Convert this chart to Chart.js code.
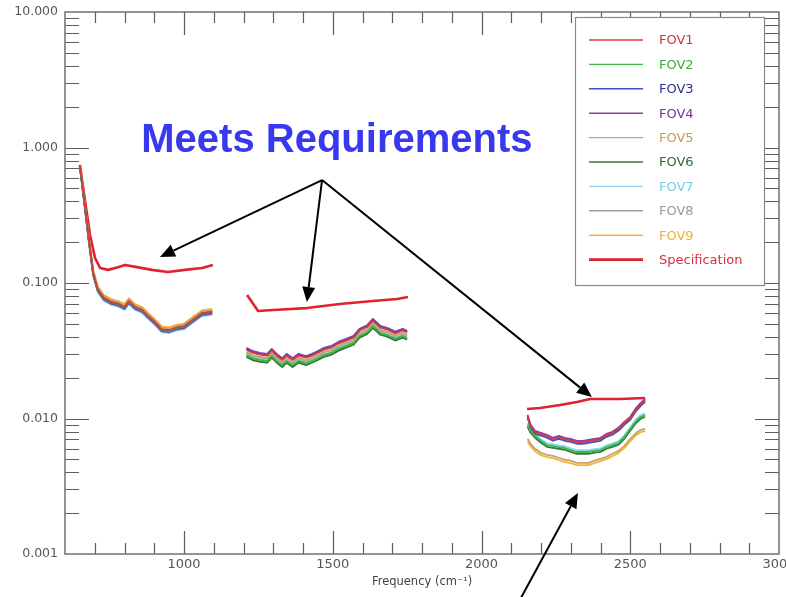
<!DOCTYPE html>
<html>
<head>
<meta charset="utf-8">
<script src="https://cdn.jsdelivr.net/npm/chart.js@4.4.1/dist/chart.umd.min.js"></script>
<style>
  html, body { margin: 0; padding: 0; background: #ffffff; }
  canvas { display: block; }
</style>
</head>
<body>
<canvas id="noise" width="786" height="597"></canvas>
<script>
// Noise spectra per field of view, three spectral bands (null separates the bands)
const freqFov = [
  650, 665, 680, 695, 710, 730, 755, 780, 800, 815, 835, 860, 880, 900, 925, 950, 975, 1000, 1030, 1060, 1095,
  1150,
  1210, 1230, 1255, 1280, 1295, 1315, 1330, 1345, 1365, 1385, 1410, 1430, 1450, 1470, 1495, 1520, 1545, 1570, 1590, 1615, 1635, 1660, 1685, 1710, 1735, 1750,
  1950,
  2155, 2165, 2180, 2200, 2220, 2240, 2260, 2280, 2300, 2320, 2340, 2360, 2380, 2400, 2420, 2440, 2460, 2480, 2500, 2520, 2535, 2550
];

const fov1 = [
  0.74, 0.40, 0.21, 0.118, 0.090, 0.078, 0.0725, 0.070, 0.0665, 0.0735, 0.0665, 0.063, 0.057, 0.052, 0.0455, 0.0448, 0.0468, 0.0478, 0.0535, 0.0598, 0.0612,
  null,
  0.0322, 0.0306, 0.0296, 0.0291, 0.0317, 0.0287, 0.0271, 0.0291, 0.0271, 0.0291, 0.0281, 0.0291, 0.0306, 0.0322, 0.0334, 0.0359, 0.0376, 0.0395, 0.0446, 0.0473, 0.0528, 0.0469, 0.0452, 0.0425, 0.0446, 0.0431,
  null,
  0.01043, 0.00881, 0.00795, 0.00769, 0.00743, 0.00706, 0.00730, 0.00706, 0.00694, 0.00671, 0.00671, 0.00682, 0.00694, 0.00706, 0.00755, 0.00782, 0.00837, 0.00926, 0.01009, 0.01175, 0.01279, 0.01369
];
const fov2 = [
  0.73, 0.40, 0.208, 0.117, 0.0892, 0.0773, 0.0718, 0.0694, 0.0660, 0.0726, 0.0660, 0.0622, 0.0566, 0.0516, 0.0451, 0.0442, 0.0465, 0.0475, 0.0528, 0.0594, 0.0608,
  null,
  0.0295, 0.0279, 0.0271, 0.0266, 0.0290, 0.0262, 0.0248, 0.0266, 0.0248, 0.0266, 0.0257, 0.0266, 0.0279, 0.0295, 0.0305, 0.0328, 0.0344, 0.0361, 0.0408, 0.0432, 0.0483, 0.0428, 0.0413, 0.0389, 0.0408, 0.0393,
  null,
  0.00896, 0.00809, 0.00743, 0.00682, 0.00637, 0.00627, 0.00616, 0.00606, 0.00585, 0.00566, 0.00566, 0.00566, 0.00576, 0.00585, 0.00616, 0.00637, 0.00659, 0.00730, 0.00837, 0.00959, 0.01026, 0.01062
];
const fov3 = [
  0.73, 0.39, 0.205, 0.114, 0.0875, 0.0757, 0.0703, 0.0680, 0.0645, 0.0712, 0.0646, 0.0611, 0.0553, 0.0505, 0.0442, 0.0435, 0.0454, 0.0464, 0.0519, 0.0580, 0.0594,
  null,
  0.0326, 0.0309, 0.0299, 0.0294, 0.0320, 0.0290, 0.0274, 0.0294, 0.0274, 0.0294, 0.0284, 0.0294, 0.0309, 0.0326, 0.0337, 0.0362, 0.0380, 0.0399, 0.0450, 0.0478, 0.0533, 0.0474, 0.0457, 0.0429, 0.0450, 0.0435,
  null,
  0.01012, 0.00855, 0.00771, 0.00746, 0.00721, 0.00685, 0.00708, 0.00685, 0.00673, 0.00651, 0.00651, 0.00662, 0.00673, 0.00685, 0.00732, 0.00759, 0.00812, 0.00898, 0.00979, 0.01140, 0.01241, 0.01328
];
const fov4 = [
  0.74, 0.39, 0.206, 0.116, 0.0882, 0.0765, 0.0711, 0.0686, 0.0652, 0.0720, 0.0652, 0.0617, 0.0559, 0.0510, 0.0446, 0.0439, 0.0459, 0.0468, 0.0524, 0.0586, 0.0600,
  null,
  0.0332, 0.0315, 0.0305, 0.0300, 0.0326, 0.0295, 0.0279, 0.0300, 0.0279, 0.0300, 0.0289, 0.0300, 0.0315, 0.0332, 0.0343, 0.0369, 0.0387, 0.0407, 0.0459, 0.0487, 0.0544, 0.0483, 0.0465, 0.0438, 0.0459, 0.0443,
  null,
  0.01064, 0.00899, 0.00811, 0.00784, 0.00758, 0.00720, 0.00745, 0.00720, 0.00708, 0.00684, 0.00684, 0.00696, 0.00708, 0.00720, 0.00770, 0.00798, 0.00854, 0.00945, 0.01029, 0.01199, 0.01305, 0.01396
];
const fov5 = [
  0.74, 0.41, 0.216, 0.122, 0.0927, 0.0803, 0.0747, 0.0721, 0.0685, 0.0757, 0.0685, 0.0649, 0.0587, 0.0536, 0.0469, 0.0461, 0.0482, 0.0492, 0.0551, 0.0616, 0.0630,
  null,
  0.0310, 0.0294, 0.0285, 0.0280, 0.0305, 0.0276, 0.0261, 0.0280, 0.0261, 0.0280, 0.0270, 0.0280, 0.0294, 0.0310, 0.0321, 0.0345, 0.0362, 0.0380, 0.0429, 0.0455, 0.0508, 0.0451, 0.0435, 0.0409, 0.0429, 0.0414,
  null,
  0.00708, 0.00650, 0.00597, 0.00558, 0.00540, 0.00530, 0.00512, 0.00496, 0.00488, 0.00471, 0.00471, 0.00471, 0.00488, 0.00504, 0.00521, 0.00549, 0.00577, 0.00628, 0.00708, 0.00784, 0.00825, 0.00838
];
const fov6 = [
  0.73, 0.40, 0.21, 0.117, 0.0895, 0.0778, 0.0722, 0.0698, 0.0662, 0.0730, 0.0668, 0.0628, 0.0570, 0.0518, 0.0453, 0.0446, 0.0470, 0.0482, 0.0540, 0.0604, 0.0618,
  null,
  0.0285, 0.0270, 0.0262, 0.0258, 0.0281, 0.0254, 0.0240, 0.0258, 0.0240, 0.0258, 0.0248, 0.0258, 0.0270, 0.0285, 0.0295, 0.0317, 0.0333, 0.0350, 0.0395, 0.0419, 0.0467, 0.0415, 0.0400, 0.0376, 0.0395, 0.0381,
  null,
  0.00869, 0.00785, 0.00721, 0.00662, 0.00618, 0.00608, 0.00598, 0.00588, 0.00567, 0.00549, 0.00549, 0.00549, 0.00559, 0.00567, 0.00598, 0.00618, 0.00639, 0.00708, 0.00812, 0.00930, 0.00995, 0.01030
];
const fov7 = [
  0.72, 0.38, 0.200, 0.112, 0.0855, 0.0741, 0.0689, 0.0665, 0.0632, 0.0698, 0.0632, 0.0599, 0.0542, 0.0494, 0.0432, 0.0426, 0.0445, 0.0454, 0.0508, 0.0568, 0.0581,
  null,
  0.0298, 0.0282, 0.0274, 0.0269, 0.0293, 0.0265, 0.0251, 0.0269, 0.0251, 0.0269, 0.0259, 0.0269, 0.0282, 0.0298, 0.0308, 0.0331, 0.0348, 0.0365, 0.0412, 0.0437, 0.0488, 0.0433, 0.0418, 0.0393, 0.0412, 0.0397,
  null,
  0.00923, 0.00833, 0.00765, 0.00702, 0.00656, 0.00646, 0.00634, 0.00624, 0.00603, 0.00583, 0.00583, 0.00583, 0.00593, 0.00603, 0.00634, 0.00656, 0.00679, 0.00752, 0.00862, 0.00988, 0.01057, 0.01094
];
const fov8 = [
  0.74, 0.40, 0.212, 0.119, 0.0909, 0.0788, 0.0732, 0.0707, 0.0672, 0.0742, 0.0672, 0.0636, 0.0576, 0.0525, 0.0460, 0.0452, 0.0473, 0.0483, 0.0540, 0.0604, 0.0618,
  null,
  0.0307, 0.0291, 0.0282, 0.0277, 0.0302, 0.0273, 0.0258, 0.0277, 0.0258, 0.0277, 0.0267, 0.0277, 0.0291, 0.0307, 0.0318, 0.0342, 0.0358, 0.0376, 0.0425, 0.0450, 0.0503, 0.0446, 0.0431, 0.0405, 0.0425, 0.0410,
  null,
  0.01030, 0.00875, 0.00790, 0.00760, 0.00738, 0.00700, 0.00722, 0.00698, 0.00690, 0.00665, 0.00668, 0.00676, 0.00688, 0.00700, 0.00748, 0.00775, 0.00830, 0.00915, 0.01000, 0.01160, 0.01265, 0.01355
];
const fov9 = [
  0.75, 0.41, 0.220, 0.124, 0.0945, 0.0819, 0.0761, 0.0735, 0.0698, 0.0772, 0.0698, 0.0662, 0.0599, 0.0546, 0.0478, 0.0470, 0.0491, 0.0502, 0.0562, 0.0628, 0.0643,
  null,
  0.0288, 0.0273, 0.0265, 0.0260, 0.0284, 0.0257, 0.0243, 0.0260, 0.0243, 0.0260, 0.0251, 0.0260, 0.0273, 0.0288, 0.0299, 0.0321, 0.0337, 0.0353, 0.0399, 0.0423, 0.0472, 0.0419, 0.0405, 0.0380, 0.0399, 0.0385,
  null,
  0.00680, 0.00624, 0.00573, 0.00536, 0.00518, 0.00510, 0.00492, 0.00476, 0.00468, 0.00453, 0.00453, 0.00453, 0.00468, 0.00484, 0.00501, 0.00527, 0.00555, 0.00604, 0.00680, 0.00754, 0.00793, 0.00806
];

// Requirement curve
const freqSpec = [
  650, 667, 684, 701, 718, 745, 775, 802, 842, 892, 946, 1003, 1061, 1097,
  1150,
  1212, 1249, 1299, 1413, 1524, 1635, 1716, 1753,
  1950,
  2153, 2197, 2264, 2321, 2365, 2466, 2550
];
const specValues = [
  0.74, 0.41, 0.226, 0.153, 0.129, 0.125, 0.130, 0.136, 0.131, 0.125, 0.1206, 0.125, 0.129, 0.136,
  null,
  0.0815, 0.0621, 0.0632, 0.0653, 0.0700, 0.0736, 0.0762, 0.0788,
  null,
  0.01175, 0.01196, 0.01258, 0.01324, 0.01393, 0.01393, 0.01417
];

const seriesNames = ['FOV1', 'FOV2', 'FOV3', 'FOV4', 'FOV5', 'FOV6', 'FOV7', 'FOV8', 'FOV9', 'Specification'];
const xTickValues = [1000, 1500, 2000, 2500, 3000];
const yTickValues = [0.001, 0.01, 0.1, 1, 10];

// Callout anchors in data units [frequency, value]
const calloutText = 'Meets Requirements';
const calloutTextAt = [1514, 0.926];
const calloutApex = [1464, 0.575];
const calloutTips = [[919, 0.1556], [1413, 0.0724], [2371, 0.0144]];
const lowerArrow = { from: [2129, 0.000458], to: [2324, 0.00282] };

const fovSeries = [fov1, fov2, fov3, fov4, fov5, fov6, fov7, fov8, fov9];
const fovColors = ['#d8393c', '#3cb54a', '#4352b8', '#8a3fb0', '#c9a36c', '#2f7a35', '#8fd4f0', '#a0a0a0', '#f1b534'];
const fovTextColors = ['#cc3333', '#3aaa3a', '#2a2f92', '#7b2fa5', '#c49a55', '#2c6e30', '#7cc7ea', '#999999', '#f0b030'];

const toPoints = (xs, ys) => xs.map((v, i) => ({ x: v, y: ys[i] }));

const datasets = fovSeries.map((vals, i) => ({
  label: seriesNames[i],
  data: toPoints(freqFov, vals),
  borderColor: fovColors[i],
  textColor: fovTextColors[i],
  borderWidth: 1.8,
  borderJoinStyle: 'round'
}));
datasets.push({
  label: seriesNames[9],
  data: toPoints(freqSpec, specValues),
  borderColor: '#e0222e',
  textColor: '#d6303a',
  borderWidth: 2.6,
  borderJoinStyle: 'round'
});

const FONT = "'DejaVu Sans', sans-serif";

// Boxed frame with inward ticks on all four sides
const axisFrame = {
  id: 'axisFrame',
  afterDatasetsDraw(chart) {
    const { ctx, chartArea: a, scales: { x, y } } = chart;
    ctx.save();
    ctx.strokeStyle = '#5e5e5e';
    ctx.lineWidth = 1.2;
    ctx.beginPath();
    for (let v = 700; v < 3000; v += 100) {
      const px = Math.round(x.getPixelForValue(v)) + 0.5;
      const len = v % 500 === 0 ? 23 : 11;
      ctx.moveTo(px, a.bottom); ctx.lineTo(px, a.bottom - len);
      ctx.moveTo(px, a.top); ctx.lineTo(px, a.top + len);
    }
    for (let e = -3; e <= 0; e++) {
      for (let k = 1; k <= 9; k++) {
        if (k === 1 && e === -3) continue;
        const py = Math.round(y.getPixelForValue(k * Math.pow(10, e))) + 0.5;
        const len = k === 1 ? 24 : 14;
        ctx.moveTo(a.left, py); ctx.lineTo(a.left + len, py);
        ctx.moveTo(a.right, py); ctx.lineTo(a.right - len, py);
      }
    }
    ctx.stroke();
    ctx.lineWidth = 1.4;
    ctx.strokeStyle = '#666666';
    ctx.strokeRect(a.left, a.top, a.right - a.left, a.bottom - a.top);
    ctx.restore();
  }
};

// Legend box inside the plot, upper right
const boxedLegend = {
  id: 'boxedLegend',
  afterDatasetsDraw(chart) {
    const { ctx } = chart;
    const box = { left: 575, top: 17, width: 189, height: 268 };
    ctx.save();
    ctx.fillStyle = '#ffffff';
    ctx.fillRect(box.left, box.top, box.width, box.height);
    ctx.strokeStyle = '#8a8a8a';
    ctx.lineWidth = 1.2;
    ctx.strokeRect(box.left + 0.5, box.top + 0.5, box.width, box.height);
    ctx.font = '13px ' + FONT;
    ctx.textBaseline = 'middle';
    ctx.textAlign = 'left';
    chart.data.datasets.forEach((ds, i) => {
      const yy = 40 + i * 24.4;
      ctx.strokeStyle = ds.borderColor;
      ctx.lineWidth = i === 9 ? 2.8 : 1.4;
      ctx.beginPath();
      ctx.moveTo(589, yy); ctx.lineTo(643, yy);
      ctx.stroke();
      ctx.fillStyle = ds.textColor;
      ctx.fillText(ds.label, 659, yy + 1);
    });
    ctx.restore();
  }
};

function arrow(ctx, x0, y0, x1, y1, head, halfW) {
  const ang = Math.atan2(y1 - y0, x1 - x0);
  const bx = x1 - head * Math.cos(ang), by = y1 - head * Math.sin(ang);
  ctx.beginPath();
  ctx.moveTo(x0, y0); ctx.lineTo(bx, by);
  ctx.stroke();
  ctx.beginPath();
  ctx.moveTo(x1, y1);
  ctx.lineTo(bx + halfW * Math.sin(ang), by - halfW * Math.cos(ang));
  ctx.lineTo(bx - halfW * Math.sin(ang), by + halfW * Math.cos(ang));
  ctx.closePath();
  ctx.fill();
}

// Headline and pointer arrows
const callout = {
  id: 'callout',
  afterDraw(chart) {
    const { ctx, scales: { x, y } } = chart;
    const P = (pt) => [x.getPixelForValue(pt[0]), y.getPixelForValue(pt[1])];
    ctx.save();
    ctx.font = "bold 40px 'Liberation Sans', Arial, sans-serif";
    ctx.fillStyle = '#3838ee';
    ctx.textAlign = 'center';
    ctx.textBaseline = 'alphabetic';
    const t = P(calloutTextAt);
    ctx.fillText(calloutText, t[0], t[1]);
    ctx.strokeStyle = '#000000';
    ctx.fillStyle = '#000000';
    ctx.lineWidth = 2;
    const apex = P(calloutApex);
    calloutTips.forEach(tp => {
      const q = P(tp);
      arrow(ctx, apex[0], apex[1], q[0], q[1], 15, 6.5);
    });
    const f = P(lowerArrow.from), g = P(lowerArrow.to);
    arrow(ctx, f[0], f[1], g[0], g[1], 15, 6.5);
    ctx.restore();
  }
};

new Chart(document.getElementById('noise'), {
  type: 'line',
  data: { datasets },
  options: {
    responsive: false,
    animation: false,
    layout: { padding: { top: 12, right: 7, left: 0, bottom: 0 } },
    elements: { point: { radius: 0 }, line: { tension: 0 } },
    spanGaps: false,
    plugins: { legend: { display: false }, tooltip: { enabled: false } },
    scales: {
      x: {
        type: 'linear',
        min: 600,
        max: 3000,
        grid: { display: false, drawTicks: false },
        border: { display: false },
        afterBuildTicks: (s) => { s.ticks = xTickValues.map(v => ({ value: v })); },
        afterFit: (s) => { s.height = 43; s.paddingLeft = 0; s.paddingRight = 0; },
        ticks: {
          padding: 3,
          maxRotation: 0,
          autoSkip: false,
          color: '#555555',
          font: { family: FONT, size: 13 },
          callback: (v) => String(v)
        },
        title: {
          display: true,
          text: 'Frequency (cm⁻¹)',
          color: '#444444',
          font: { family: FONT, size: 11.5 },
          padding: { top: 0, bottom: 8 }
        }
      },
      y: {
        type: 'logarithmic',
        min: 0.001,
        max: 10,
        grid: { display: false, drawTicks: false },
        border: { display: false },
        afterBuildTicks: (s) => { s.ticks = yTickValues.map(v => ({ value: v })); },
        afterFit: (s) => { s.width = 65; s.paddingTop = 0; s.paddingBottom = 0; },
        ticks: {
          padding: 7,
          autoSkip: false,
          color: '#555555',
          font: { family: FONT, size: 12.5 },
          callback: (v) => Number(v).toFixed(3)
        }
      }
    }
  },
  plugins: [axisFrame, boxedLegend, callout]
});
</script>
</body>
</html>
